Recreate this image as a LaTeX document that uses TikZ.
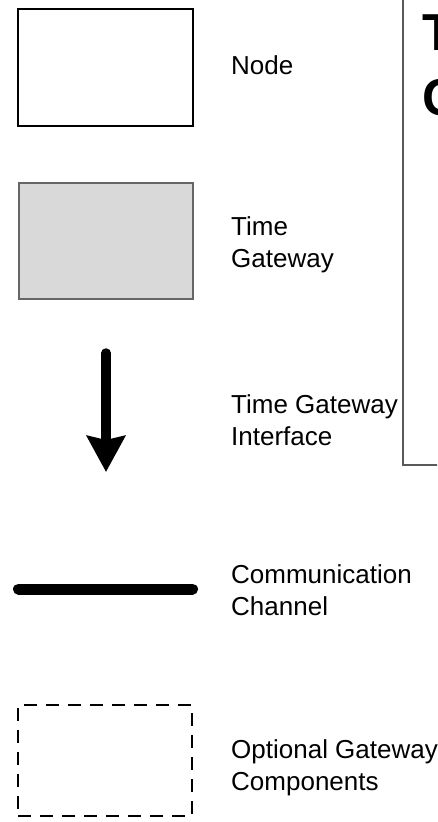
\documentclass[tikz,border=0pt]{standalone}
\usepackage{fontspec}
\setmainfont{Liberation Sans}
\usetikzlibrary{arrows.meta, positioning}

\tikzset{
  legendbox/.style={draw, line width=2pt, minimum width=175pt, minimum height=117pt, inner sep=0pt},
  gatewaybox/.style={draw=black!60, fill=black!15, line width=1.3pt, minimum width=174pt, minimum height=116pt, inner sep=0pt},
  optionalbox/.style={draw, line width=2pt, dash pattern=on 13pt off 9pt, minimum width=174pt, minimum height=111pt, inner sep=0pt},
  legendtext/.style={anchor=base west, align=left, inner sep=0pt, font=\fontsize{26}{32}\selectfont},
  titletext/.style={anchor=base west, inner sep=0pt, font=\fontsize{52}{64}\selectfont\bfseries},
}

\begin{document}
\begin{tikzpicture}[x=1pt, y=-1pt]
\useasboundingbox (0,0) rectangle (437,822);
\clip (0,0) rectangle (437,822);

% legend symbols
\node[legendbox] (nodebox) at (105.5,67.5) {};
\node[gatewaybox] (gwbox) at (106,241) {};
\coordinate (tgitop) at (106,353);
\coordinate (tgitip) at (106,472);
\draw[line width=9.5pt, line cap=round, -{Stealth[width=38pt, length=36pt, inset=4pt]}] (tgitop) -- (tgitip);
\coordinate (chleft) at (18.5,589);
\coordinate (chright) at (192.5,589);
\draw[line width=11pt, line cap=round] (chleft) -- (chright);
\node[optionalbox] (optbox) at (105,760) {};

% labels (base = last line)
\node[legendtext] (lblnode) at (231,74) {Node};
\node[legendtext] (lblgw) at (231,267) {Time\\Gateway};
\node[legendtext] (lbltgi) at (231,445) {Time Gateway\\Interface};
\node[legendtext] (lblchan) at (231,615) {Communication\\Channel};
\node[legendtext] (lblopt) at (231,790) {Optional Gateway\\Components};

% title panel, cut off at the right
\draw[black!65, line width=2pt] (403,-10) -- (403,465) -- (450,465);
\node[titletext] (titleT) at (422,50) {T};
\node[titletext] (titleC) at (422,115) {C};
\end{tikzpicture}
\end{document}
